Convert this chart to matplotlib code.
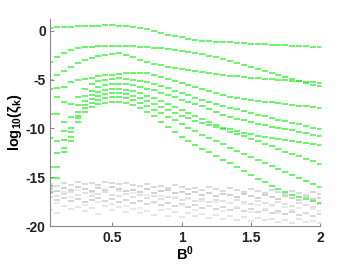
import numpy as np
import matplotlib
matplotlib.use("Agg")
import matplotlib.pyplot as plt

plt.rcParams['font.family'] = ['Liberation Sans', 'DejaVu Sans']
plt.rcParams['mathtext.fontset'] = 'custom'
plt.rcParams['mathtext.rm'] = 'Liberation Sans:bold'
plt.rcParams['mathtext.it'] = 'Liberation Sans:bold'
plt.rcParams['mathtext.bf'] = 'Liberation Sans:bold'

# B^0 grid
b0 = [round(0.05 * (i + 1), 2) for i in range(40)]

# green curves (log10 of zeta_k)
zeta_a = [0.30, 0.32, 0.35, 0.38, 0.41, 0.44, 0.47, 0.50, 0.52, 0.52,
          0.50, 0.45, 0.38, 0.25, 0.12, -0.10, -0.30, -0.45, -0.58, -0.68,
          -0.82, -0.92, -1.02, -1.08, -1.14, -1.18, -1.22, -1.26, -1.30, -1.33,
          -1.37, -1.40, -1.44, -1.47, -1.50, -1.54, -1.57, -1.60, -1.64, -1.68]
zeta_b = [-3.20, -2.70, -2.30, -2.00, -1.80, -1.70, -1.65, -1.60, -1.60, -1.58,
          -1.58, -1.60, -1.62, -1.65, -1.70, -1.75, -1.80, -1.88, -1.97, -2.06,
          -2.16, -2.28, -2.42, -2.56, -2.72, -2.95, -3.15, -3.35, -3.55, -3.75,
          -3.95, -4.15, -4.35, -4.55, -4.75, -4.95, -5.15, -5.35, -5.52, -5.68]
zeta_c = [-5.00, -4.50, -4.10, -3.70, -3.35, -3.05, -2.80, -2.60, -2.45, -2.35,
          -2.30, -2.45, -2.75, -2.98, -3.20, -3.38, -3.55, -3.70, -3.82, -3.94,
          -4.05, -4.15, -4.25, -4.35, -4.45, -4.55, -4.62, -4.68, -4.74, -4.80,
          -4.86, -4.91, -4.96, -5.02, -5.07, -5.12, -5.18, -5.24, -5.30, -5.36]
zeta_d = [-6.00, -5.90, -5.75, -5.30, -5.10, -4.95, -4.80, -4.68, -4.58, -4.50,
          -4.42, -4.36, -4.32, -4.30, -4.35, -4.50, -4.72, -4.95, -5.15, -5.35,
          -5.55, -5.75, -5.95, -6.15, -6.35, -6.60, -6.75, -6.90, -7.00, -7.10,
          -7.18, -7.26, -7.34, -7.42, -7.50, -7.58, -7.66, -7.74, -7.82, -7.90]
zeta_e = [-8.50, -6.75, -7.30, -7.50, -6.80, -6.00, -5.50, -5.20, -5.00, -4.90,
          -4.85, -4.90, -5.00, -5.15, -5.30, -5.50, -5.70, -5.90, -6.15, -6.40,
          -6.62, -6.85, -7.08, -7.30, -7.50, -7.70, -7.88, -8.05, -8.22, -8.40,
          -8.58, -8.75, -8.92, -9.10, -9.25, -9.40, -9.58, -9.75, -9.90, -10.05]
zeta_f = [-11.00, -8.50, -9.30, -8.80, -7.60, -6.70, -6.15, -5.80, -5.60, -5.50,
          -5.45, -5.50, -5.60, -5.75, -5.92, -6.10, -6.35, -6.60, -6.82, -7.05,
          -7.28, -7.50, -7.75, -8.00, -8.30, -8.60, -8.80, -9.00, -9.18, -9.35,
          -9.50, -9.65, -9.80, -9.95, -10.08, -10.20, -10.35, -10.50, -10.65, -10.80]
zeta_g = [-13.90, -11.30, -10.30, -10.00, -8.30, -7.20, -6.60, -6.30, -6.10, -6.00,
          -6.00, -6.05, -6.20, -6.40, -6.65, -6.90, -7.20, -7.50, -7.80, -8.10,
          -8.40, -8.70, -9.00, -9.30, -9.60, -9.90, -10.10, -10.30, -10.45, -10.60,
          -10.72, -10.85, -10.95, -11.05, -11.18, -11.30, -11.40, -11.50, -11.60, -11.70]
zeta_h = [-15.90, -12.50, -11.20, -10.40, -8.70, -7.60, -7.00, -6.70, -6.50, -6.40,
          -6.40, -6.50, -6.70, -6.90, -7.20, -7.50, -7.80, -8.10, -8.40, -8.70,
          -8.95, -9.20, -9.42, -9.65, -9.88, -10.10, -10.32, -10.55, -10.80, -11.05,
          -11.30, -11.55, -11.82, -12.10, -12.35, -12.60, -12.85, -13.10, -13.35, -13.60]
zeta_i = [-15.10, -13.90, -12.00, -10.90, -8.90, -7.90, -7.40, -7.10, -6.90, -6.80,
          -6.80, -6.90, -7.10, -7.40, -7.75, -8.10, -8.45, -8.80, -9.15, -9.50,
          -9.90, -10.30, -10.65, -11.00, -11.30, -11.60, -11.95, -12.30, -12.60, -12.90,
          -13.20, -13.50, -13.82, -14.15, -14.45, -14.75, -15.05, -15.35, -15.68, -16.00]
zeta_j = [-16.50, -15.10, -12.40, -11.30, -9.30, -8.30, -7.80, -7.50, -7.35, -7.30,
          -7.30, -7.40, -7.60, -7.90, -8.30, -8.70, -9.30, -9.85, -10.40, -10.90,
          -11.30, -11.70, -12.05, -12.45, -12.80, -13.20, -13.55, -13.90, -14.30, -14.75,
          -15.15, -15.50, -15.85, -16.20, -16.50, -16.80, -17.00, -17.20, -17.45, -17.60]

# gray (round-off level) values
noise_1 = [-15.7, -15.9, -15.6, -15.8, -15.5, -15.7, -15.6, -15.8, -15.5, -15.6,
           -15.7, -15.6, -15.8, -15.9, -15.7, -16.0, -15.9, -16.1, -15.8, -16.0,
           -16.2, -16.1, -16.3, -16.0, -16.2, -16.4, -16.1, -16.3, -16.5, -16.2,
           -16.4, -16.6, -16.3, -16.5, -16.7, -16.4, -16.6, -16.8, -16.5, -16.7]
noise_2 = [-16.2, -16.4, -16.1, -16.3, -16.0, -16.2, -16.4, -16.1, -16.3, -16.0,
           -16.2, -16.4, -16.3, -16.5, -16.2, -16.6, -16.4, -16.3, -16.6, -16.5,
           -16.7, -16.5, -16.8, -16.6, -16.9, -16.7, -16.8, -17.0, -16.7, -16.9,
           -17.1, -16.8, -17.0, -17.2, -16.9, -17.1, -17.3, -17.0, -17.2, -17.1]
noise_3 = [-16.6, -16.9, -16.7, -16.5, -16.8, -16.6, -16.9, -16.7, -16.5, -16.8,
           -16.9, -16.7, -17.0, -16.8, -17.1, -16.9, -17.2, -17.0, -17.1, -17.3,
           -17.1, -17.4, -17.2, -17.5, -17.3, -17.4, -17.6, -17.3, -17.5, -17.7,
           -17.4, -17.6, -17.8, -17.5, -17.7, -17.9, -17.6, -17.8, -18.0, -17.7]
noise_4 = [-17.0, -17.3, -17.1, -17.4, -17.2, -17.5, -17.3, -17.1, -17.4, -17.2,
           -17.5, -17.3, -17.6, -17.4, -17.7, -17.5, -17.8, -17.6, -17.9, -17.7,
           -18.0, -17.8, -18.1, -17.9, -18.2, -18.0, -18.3, -18.1, -18.4, -18.2,
           -18.5, -18.3, -18.6, -18.4, -18.7, -18.5, -18.8, -18.6, -18.9, -18.7]
noise_5 = [-18.3, -18.6, -17.9, -18.2, -18.0, -18.4, -18.1, -18.7, -17.9, -18.3,
           -18.0, -18.5, -18.2, -18.6, -18.4, -18.8, -18.3, -18.9, -18.5, -19.0,
           -18.6, -18.9, -18.7, -19.1, -18.8, -19.2, -18.9, -19.3, -19.0, -19.4,
           -19.1, -19.3, -19.2, -19.5, -19.3, -19.6, -19.2, -19.5, -19.4, -19.6]
noise_6 = [-16.0, -17.6, -16.5, -17.0, -16.3, -17.8, -16.6, -17.5, -16.2, -17.7,
           -16.4, -17.9, -16.6, -18.1, -16.8, -17.6, -16.9, -18.2, -17.0, -17.8,
           -17.2, -18.3, -17.4, -17.9, -17.5, -18.4, -17.6, -18.0, -17.7, -18.5,
           -17.8, -18.2, -17.9, -18.6, -18.0, -18.3, -18.1, -18.7, -18.2, -18.4]

green_series = [zeta_a, zeta_b, zeta_c, zeta_d, zeta_e,
                zeta_f, zeta_g, zeta_h, zeta_i, zeta_j]
gray_series = [noise_1, noise_2, noise_3, noise_4, noise_5, noise_6]
gray_colors = ["#d4d4d4", "#c8c8c8", "#dadada", "#d0d0d0", "#e2e2e2", "#e6e6e6"]

fig = plt.figure(figsize=(3.53, 2.68), dpi=100)
ax = fig.add_axes([0.1416, 0.155, 0.765, 0.775])

for vals, col in zip(gray_series, gray_colors):
    ax.plot(b0, vals, linestyle="none", marker="_", markersize=4.5,
            markeredgewidth=1.2, color=col)

for vals in green_series:
    ax.plot(b0, vals, linestyle="none", marker="_", markersize=4.6,
            markeredgewidth=1.1, color="#10f010", alpha=0.8)

ax.set_xlim(0.05, 2.0)
ax.set_ylim(-20, 1.2)
ax.set_xticks([0.5, 1, 1.5, 2])
ax.set_xticklabels(["0.5", "1", "1.5", "2"])
ax.set_yticks([0, -5, -10, -15, -20])
ax.set_yticklabels(["0", "-5", "-10", "-15", "-20"])

for side in ["top", "right"]:
    ax.spines[side].set_visible(False)
for side in ["left", "bottom"]:
    ax.spines[side].set_color("#8a8a8a")
    ax.spines[side].set_linewidth(0.8)

ax.tick_params(direction="in", length=3, width=0.8, color="#8a8a8a",
               labelsize=10, pad=3)
for lab in ax.get_xticklabels() + ax.get_yticklabels():
    lab.set_fontweight("bold")
    lab.set_color("#222222")

ax.set_xlabel(r"B$^0$", fontsize=10.5, fontweight="bold", labelpad=0)
ax.set_ylabel(r"log$_{10}$($\zeta_k$)", fontsize=10.5, fontweight="bold", labelpad=1)

fig.savefig("out.png", dpi=100)
